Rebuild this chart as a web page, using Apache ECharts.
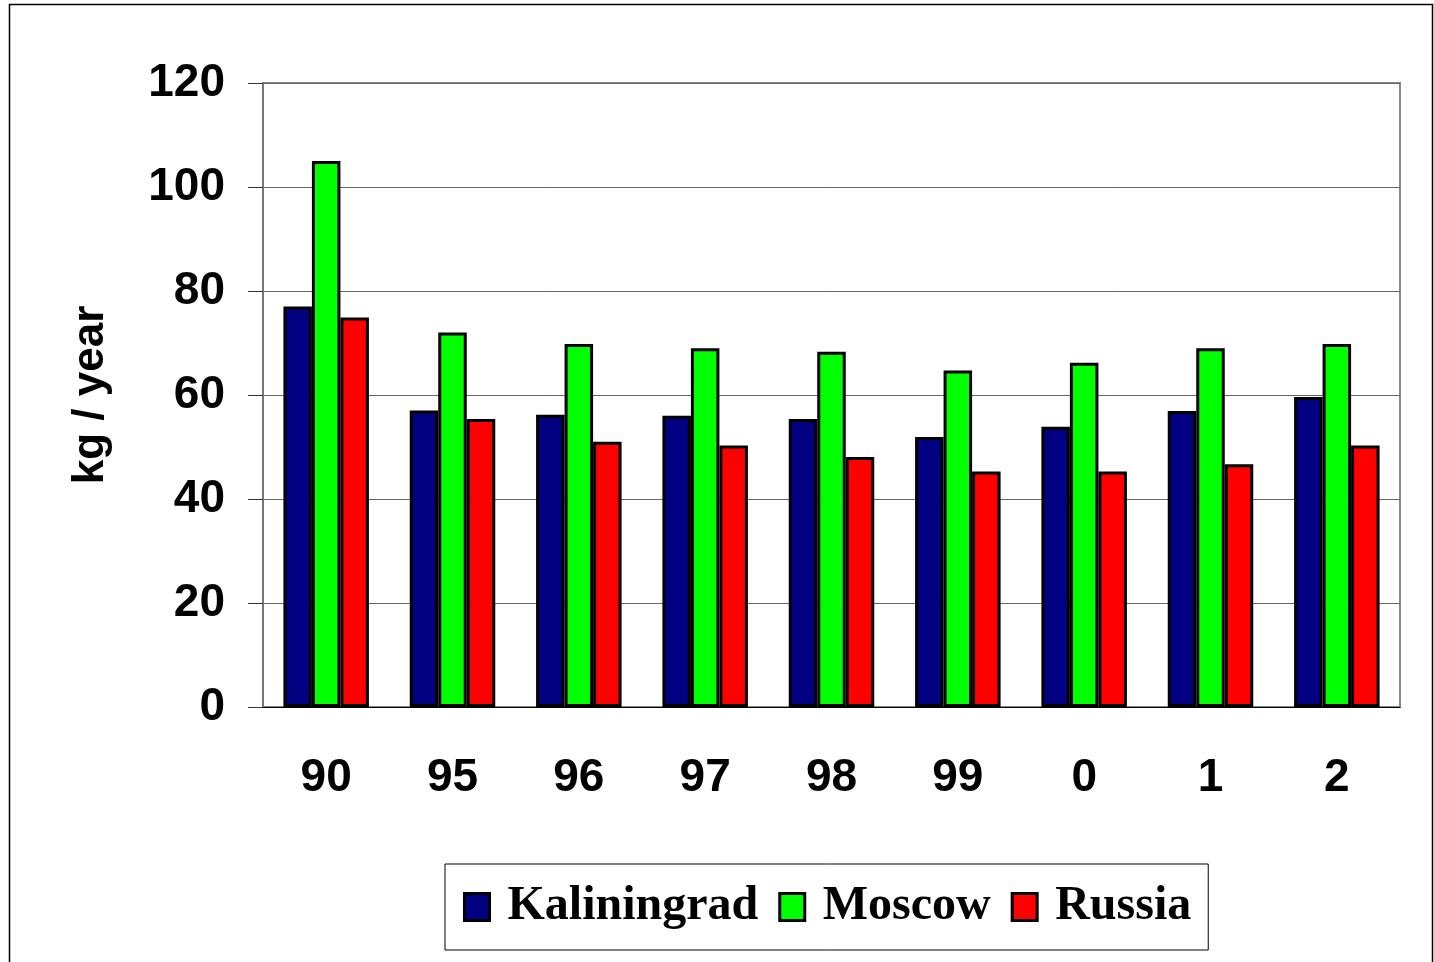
<!DOCTYPE html>
<html>
<head>
<meta charset="utf-8">
<script src="https://cdn.jsdelivr.net/npm/echarts@6/dist/echarts.min.js"></script>
<style>
	html, body { margin: 0; padding: 0; background: #fff; }
	#draw { width: 1434px; height: 962px; }
</style>
</head>
<body>
<div id="draw"></div>
<script>
	// years (two-digit)
	var years = ['90', '95', '96', '97', '98', '99', '0', '1', '2'];
	var kaliningrad = [77, 57, 56.2, 56, 55.4, 51.9, 53.9, 56.9, 59.6];
	var moscow = [105, 72, 69.8, 69, 68.3, 64.7, 66.2, 69, 69.8];
	var russia = [74.9, 55.4, 51, 50.3, 48.1, 45.3, 45.3, 46.7, 50.3];
	var seriesNames = ['Kaliningrad', 'Moscow', 'Russia'];

	function bar(name, data, color) {
		return {
			name: name,
			type: 'bar',
			data: data,
			barWidth: 28.5,
			barGap: '0%',
			itemStyle: {
				color: color,
				borderColor: '#000',
				borderWidth: 3
			}
		};
	}

	var myChart = echarts.init(document.getElementById('draw'));
	myChart.setOption({
		animation: false,
		backgroundColor: '#fff',
		graphic: [{
			type: 'rect',
			shape: { x: 9.5, y: 4.5, width: 1423, height: 990 },
			style: { fill: 'none', stroke: '#000', lineWidth: 1.5 },
			z: -1
		}],
		grid: {
			left: 263,
			right: 34,
			top: 83,
			bottom: 255,
			show: true,
			borderColor: '#888',
			borderWidth: 2
		},
		legend: {
			data: seriesNames,
			left: 445,
			top: 864,
			orient: 'horizontal',
			itemWidth: 25,
			itemHeight: 27,
			itemGap: 20,
			padding: [19, 17, 19, 18],
			borderColor: '#000',
			borderWidth: 1,
			icon: 'rect',
			itemStyle: { borderColor: '#000', borderWidth: 3 },
			textStyle: {
				fontFamily: '"Liberation Serif", serif',
				fontWeight: 'bold',
				fontSize: 48,
				color: '#000',
				padding: [0, 0, 0, 13]
			}
		},
		xAxis: {
			type: 'category',
			data: years,
			axisLine: { lineStyle: { color: '#000', width: 1 } },
			axisTick: { length: 12, lineStyle: { color: '#444' } },
			axisLabel: {
				margin: 48,
				fontFamily: '"Liberation Sans", Arial, sans-serif',
				fontWeight: 'bold',
				fontSize: 46,
				color: '#000'
			}
		},
		yAxis: {
			type: 'value',
			min: 0,
			max: 120,
			interval: 20,
			name: 'kg / year',
			nameLocation: 'middle',
			nameGap: 150,
			nameTextStyle: {
				fontFamily: '"Liberation Sans", Arial, sans-serif',
				fontWeight: 'bold',
				fontSize: 44,
				color: '#000'
			},
			axisLine: { show: true, lineStyle: { color: '#777', width: 2 } },
			axisTick: { show: true, length: 15, lineStyle: { color: '#333' } },
			axisLabel: {
				margin: 38,
				fontFamily: '"Liberation Sans", Arial, sans-serif',
				fontWeight: 'bold',
				fontSize: 46,
				color: '#000'
			},
			splitLine: { lineStyle: { color: '#666', width: 1 } }
		},
		series: [
			bar('Kaliningrad', kaliningrad, '#000080'),
			bar('Moscow', moscow, '#00ff00'),
			bar('Russia', russia, '#ff0000')
		]
	});
</script>
</body>
</html>
